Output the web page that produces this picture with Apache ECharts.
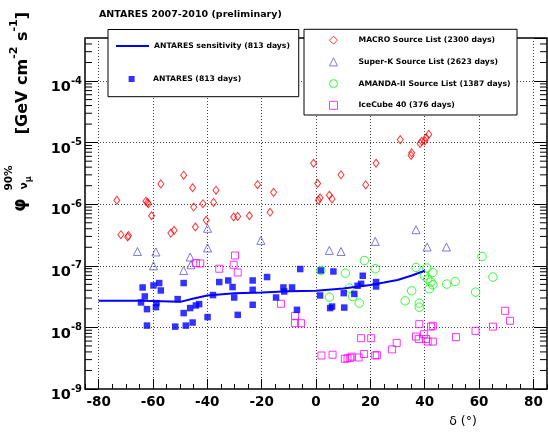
<!DOCTYPE html>
<html>
<head>
<meta charset="utf-8">
<script src="https://cdn.jsdelivr.net/npm/echarts@6/dist/echarts.min.js"></script>
<style>
  html, body { margin: 0; padding: 0; background: #fff; }
  #chart { width: 548px; height: 432px; }
</style>
</head>
<body>
<div id="chart"></div>
<script>
// declination (deg), flux limit
const sensitivity = [
  [-80, 2.7e-8], [-64, 2.72e-8], [-50, 2.6e-8], [-45, 2.95e-8], [-40, 3.3e-8],
  [-30, 3.6e-8], [-20, 3.7e-8], [-10, 3.85e-8], [0, 3.95e-8], [10, 4.3e-8],
  [20, 4.9e-8], [25, 5.35e-8], [30, 5.9e-8], [35, 6.9e-8], [40, 8.3e-8]
]
const antares = [
  [-63.8, 4.45e-8], [-63.0, 3.18e-8], [-64.4, 2.54e-8], [-62.2, 1.98e-8], [-62.2, 1.07e-8],
  [-59.8, 4.8e-8], [-57.7, 5.25e-8], [-57.1, 3.98e-8], [-58.7, 2.48e-8], [-58.9, 2.13e-8],
  [-51.8, 1.03e-8], [-50.9, 2.88e-8], [-48.7, 5.25e-8], [-48.7, 1.71e-8], [-47.9, 1.07e-8],
  [-46.3, 2.06e-8], [-45.4, 1.2e-8], [-44.2, 2.27e-8], [-43.0, 2.39e-8], [-39.9, 1.47e-8],
  [-37.9, 3.35e-8], [-35.6, 5.45e-8], [-32.3, 5.78e-8], [-30.7, 4.52e-8], [-30.1, 3.06e-8],
  [-28.8, 1.6e-8], [-23.3, 5.78e-8], [-23.3, 4.08e-8], [-23.3, 2.33e-8], [-18.0, 6.57e-8],
  [-14.7, 3.06e-8], [-12.0, 4.45e-8], [-11.7, 3.83e-8], [-8.8, 4.45e-8], [-5.8, 8.87e-8],
  [-7.0, 1.93e-8], [1.5, 3.3e-8], [1.8, 8.41e-8], [6.4, 8.1e-8], [5.9, 2.18e-8],
  [5.2, 2.06e-8], [10.2, 3.6e-8], [10.4, 2.1e-8], [14.1, 3.5e-8], [15.3, 4.74e-8],
  [16.6, 5.1e-8], [17.2, 6.9e-8], [22.1, 5.45e-8], [22.1, 4.62e-8]
]
const macro = [
  [-73.3, 1.16e-6], [-71.8, 3.2e-7], [-69.3, 2.94e-7], [-69.0, 3.1e-7], [-62.6, 1.12e-6],
  [-62.0, 1.07e-6], [-61.7, 1.02e-6], [-60.5, 6.5e-7], [-57.1, 2.14e-6], [-53.4, 3.4e-7],
  [-52.2, 3.77e-7], [-48.7, 2.96e-6], [-45.4, 1.85e-6], [-45.0, 9.0e-7], [-44.4, 4.27e-7],
  [-41.6, 1.02e-6], [-40.4, 5.47e-7], [-37.7, 1.07e-6], [-36.8, 1.69e-6], [-30.3, 6.2e-7],
  [-28.8, 6.35e-7], [-24.5, 6.5e-7], [-21.5, 2.08e-6], [-16.9, 7.4e-7], [-15.6, 1.56e-6],
  [-0.9, 4.63e-6], [0.6, 2.17e-6], [0.9, 1.16e-6], [1.5, 1.27e-6], [4.9, 1.4e-6],
  [5.9, 1.22e-6], [9.2, 3.0e-6], [18.3, 2.06e-6], [22.1, 4.63e-6], [31.0, 1.12e-5],
  [35.0, 6.2e-6], [35.2, 6.84e-6], [38.3, 9.7e-6], [38.9, 1.05e-5], [40.1, 1.07e-5],
  [40.5, 1.2e-5], [41.5, 1.36e-5]
]
const superK = [
  [-65.7, 1.71e-7], [-58.9, 1.68e-7], [-59.8, 1.0e-7], [-46.3, 1.39e-7], [-48.7, 8.4e-8],
  [-46.0, 1.04e-7], [-39.9, 4.06e-7], [-39.9, 1.95e-7], [-20.3, 2.59e-7], [4.9, 1.78e-7],
  [9.2, 1.71e-7], [21.8, 2.49e-7], [36.8, 3.86e-7], [40.9, 2.02e-7], [48.0, 2.02e-7]
]
const amanda = [
  [1.8, 8.4e-8], [10.8, 7.6e-8], [17.8, 1.22e-7], [21.8, 8.96e-8], [4.9, 3.1e-8],
  [12.3, 4.35e-8], [13.5, 3.18e-8], [15.9, 2.48e-8], [36.8, 9.4e-8], [40.8, 9.2e-8],
  [39.9, 6.9e-8], [43.0, 7.8e-8], [41.1, 6.1e-8], [42.3, 5.45e-8], [43.0, 4.92e-8],
  [41.7, 4.24e-8], [35.2, 3.93e-8], [32.8, 2.7e-8], [38.0, 2.48e-8], [38.0, 2.13e-8],
  [48.1, 5.05e-8], [51.2, 5.57e-8], [58.7, 3.74e-8], [61.1, 1.42e-7], [65.1, 6.57e-8]
]
const icecube = [
  [-44.2, 1.11e-7], [-42.6, 1.09e-7], [-35.6, 8.96e-8], [-29.8, 1.47e-7], [-30.3, 1.04e-7],
  [-28.8, 7.8e-8], [-12.9, 2.42e-8], [-7.7, 1.54e-8], [-7.7, 1.17e-8], [-5.5, 1.17e-8],
  [16.6, 6.68e-9], [20.3, 6.68e-9], [38.0, 1.13e-8], [42.3, 1.03e-8], [43.0, 1.06e-8],
  [36.8, 7.1e-9], [39.7, 7.76e-9], [40.5, 6.5e-9], [37.8, 6.5e-9], [41.1, 5.89e-9],
  [43.0, 5.89e-9], [29.7, 5.6e-9], [28.0, 4.4e-9], [51.5, 6.94e-9], [58.7, 8.79e-9],
  [65.1, 1.03e-8], [69.6, 1.86e-8], [71.4, 1.28e-8], [2.0, 3.5e-9], [6.1, 3.6e-9],
  [10.6, 3.1e-9], [11.6, 3.15e-9], [12.6, 3.2e-9], [13.1, 3.35e-9], [15.7, 3.25e-9],
  [17.7, 3.7e-9], [21.8, 3.5e-9], [22.4, 3.55e-9]
]

// log axis minor ticks (2..9 in each decade)
const decades = [-9, -8, -7, -6, -5, -4]
const mantissas = [2, 3, 4, 5, 6, 7, 8, 9]

const X_MIN = -85
const X_MAX = 85
const Y_MIN = 1e-9
const Y_MAX = 5e-4

const FONT = '"DejaVu Sans", sans-serif'

const minorTicks = []
decades.forEach((d) => {
  mantissas.forEach((m) => {
    const v = m * Math.pow(10, d)
    if (v < Y_MAX) minorTicks.push([0, v])
  })
})

const dotted = { color: '#444', width: 1, type: [1, 2] }
const legendText = { fontFamily: FONT, fontSize: 7.7, fontWeight: 'bold', color: '#000' }
const noLine = { show: false, onZero: false }

const chart = echarts.init(document.getElementById('chart'))

const option = {
  animation: false,
  backgroundColor: '#fff',
  title: {
    text: 'ANTARES 2007-2010 (preliminary)',
    left: 99,
    top: 10,
    padding: 0,
    textStyle: { fontFamily: FONT, fontSize: 9.5, fontWeight: 'bold', color: '#000' },
  },
  grid: {
    left: 85,
    right: 1,
    top: 38,
    bottom: 43,
    show: true,
    borderColor: '#000',
    borderWidth: 1.5,
    backgroundColor: 'transparent',
  },
  legend: [
    {
      // left box, line entry (the box also frames the square entry below)
      orient: 'vertical',
      left: 108,
      top: 29.5,
      padding: [12.5, 8.8, 46.7, 7],
      itemWidth: 33,
      itemHeight: 8,
      borderColor: '#000',
      borderWidth: 1,
      backgroundColor: '#fff',
      selectedMode: false,
      textStyle: legendText,
      data: [{ name: 'ANTARES sensitivity (813 days)', itemStyle: { color: 'transparent', borderWidth: 0 } }],
    },
    {
      orient: 'vertical',
      left: 128.6,
      top: 75,
      padding: 0,
      itemWidth: 6,
      itemHeight: 6,
      selectedMode: false,
      textStyle: Object.assign({}, legendText, { padding: [0, 0, 0, 13.4] }),
      data: ['ANTARES (813 days)'],
    },
    {
      orient: 'vertical',
      left: 304,
      top: 29.3,
      padding: [4.4, 6.5, 3.2, 23],
      itemWidth: 8,
      itemHeight: 8,
      itemGap: 8.7,
      borderColor: '#000',
      borderWidth: 1,
      backgroundColor: '#fff',
      selectedMode: false,
      itemStyle: { borderWidth: 1 },
      textStyle: Object.assign({}, legendText, { padding: [0, 0, 0, 16] }),
      data: [
        'MACRO Source List (2300 days)',
        'Super-K Source List (2623 days)',
        'AMANDA-II Source List (1387 days)',
        'IceCube 40 (376 days)',
      ],
    },
  ],
  xAxis: [
    {
      type: 'value',
      min: X_MIN,
      max: X_MAX,
      splitNumber: 8,
      axisLine: noLine,
      axisTick: { inside: true, length: 10, lineStyle: { color: '#000', width: 1 } },
      axisLabel: {
        margin: 6,
        showMinLabel: false,
        showMaxLabel: false,
        fontFamily: FONT,
        fontSize: 13.5,
        fontWeight: 'bold',
        color: '#000',
      },
      splitLine: { show: true, lineStyle: dotted },
    },
    {
      type: 'value',
      min: X_MIN,
      max: X_MAX,
      interval: 5,
      position: 'bottom',
      axisLine: noLine,
      axisTick: { inside: true, length: 5, lineStyle: { color: '#000', width: 1 } },
      axisLabel: { show: false },
      splitLine: { show: false },
    },
  ],
  yAxis: [
    {
      type: 'log',
      logBase: 10,
      min: Y_MIN,
      max: Y_MAX,
      axisLine: noLine,
      axisTick: { inside: true, length: 13, lineStyle: { color: '#000', width: 1 } },
      axisLabel: {
        margin: 3,
        showMaxLabel: false,
        formatter: (v) => '{b|10}{s|' + Math.round(Math.log10(v)) + '}',
        rich: {
          b: { fontFamily: FONT, fontSize: 14.5, fontWeight: 'bold', color: '#000', verticalAlign: 'top', padding: [13, 0, 0, 0] },
          s: { fontFamily: FONT, fontSize: 10, fontWeight: 'bold', color: '#000', verticalAlign: 'top', padding: [9, 0, 0, 0] },
        },
      },
      splitLine: { show: true, lineStyle: dotted },
    },
    {
      type: 'log',
      logBase: 10,
      min: Y_MIN,
      max: Y_MAX,
      position: 'right',
      axisLine: noLine,
      axisTick: { inside: true, length: 13, lineStyle: { color: '#000', width: 1 } },
      axisLabel: { show: false },
      splitLine: { show: false },
    },
  ],
  graphic: [
    {
      type: 'text',
      x: 20,
      y: 12,
      rotation: Math.PI / 2,
      style: {
        text: '{a|[GeV cm}{s|-2}{a| s}{s|-1}{a|]}',
        align: 'right',
        verticalAlign: 'middle',
        rich: {
          a: { fontFamily: FONT, fontSize: 16, fontWeight: 'bold', fill: '#000', verticalAlign: 'bottom', padding: [6, 0, 0, 0] },
          s: { fontFamily: FONT, fontSize: 11, fontWeight: 'bold', fill: '#000', verticalAlign: 'top' },
        },
      },
    },
    {
      type: 'text',
      x: 21,
      y: 205,
      rotation: Math.PI / 2,
      style: { text: 'φ', align: 'center', verticalAlign: 'middle', font: 'bold 17px ' + FONT, fill: '#000' },
    },
    {
      type: 'text',
      x: 9,
      y: 178,
      rotation: Math.PI / 2,
      style: { text: '90%', align: 'center', verticalAlign: 'middle', font: 'bold 10.5px ' + FONT, fill: '#000' },
    },
    {
      type: 'text',
      x: 26,
      y: 183,
      rotation: Math.PI / 2,
      style: {
        text: '{n|ν}{m|μ}',
        align: 'center',
        verticalAlign: 'middle',
        rich: {
          n: { fontFamily: FONT, fontSize: 10.5, fontWeight: 'bold', fill: '#000', verticalAlign: 'top' },
          m: { fontFamily: FONT, fontSize: 8, fontWeight: 'bold', fill: '#000', verticalAlign: 'bottom', padding: [6, 0, 0, 0] },
        },
      },
    },
    {
      type: 'text',
      x: 463,
      y: 422,
      style: { text: 'δ (°)', align: 'center', verticalAlign: 'middle', font: '12.5px ' + FONT, fill: '#000' },
    },
  ],
  series: [
    {
      name: 'ANTARES sensitivity (813 days)',
      type: 'line',
      data: sensitivity,
      symbol: 'none',
      showSymbol: false,
      lineStyle: { color: '#0000ff', width: 2 },
      itemStyle: { color: '#0000ff' },
      z: 3,
    },
    {
      name: 'ANTARES (813 days)',
      type: 'scatter',
      data: antares,
      symbol: 'rect',
      symbolSize: 6.5,
      itemStyle: { color: '#0000ff' },
      z: 4,
    },
    {
      name: 'MACRO Source List (2300 days)',
      type: 'scatter',
      data: macro,
      symbol: 'diamond',
      symbolSize: [6, 8],
      itemStyle: { color: 'none', borderColor: '#ff0000', borderWidth: 1 },
    },
    {
      name: 'Super-K Source List (2623 days)',
      type: 'scatter',
      data: superK,
      symbol: 'triangle',
      symbolSize: 8,
      itemStyle: { color: 'none', borderColor: '#5a5ad6', borderWidth: 1 },
    },
    {
      name: 'AMANDA-II Source List (1387 days)',
      type: 'scatter',
      data: amanda,
      symbol: 'circle',
      symbolSize: 8.5,
      itemStyle: { color: 'none', borderColor: '#00ff00', borderWidth: 1 },
    },
    {
      name: 'IceCube 40 (376 days)',
      type: 'scatter',
      data: icecube,
      symbol: 'rect',
      symbolSize: 7,
      itemStyle: { color: 'none', borderColor: '#ff00ff', borderWidth: 1 },
    },
    {
      // minor ticks of the log axis, left and right side
      type: 'custom',
      silent: true,
      clip: false,
      data: minorTicks,
      renderItem: (params, api) => {
        const l = api.coord([X_MIN, api.value(1)])
        const r = api.coord([X_MAX, api.value(1)])
        return {
          type: 'group',
          children: [
            { type: 'line', shape: { x1: l[0], y1: l[1], x2: l[0] + 7, y2: l[1] }, style: { stroke: '#000', lineWidth: 1 } },
            { type: 'line', shape: { x1: r[0] - 7, y1: r[1], x2: r[0], y2: r[1] }, style: { stroke: '#000', lineWidth: 1 } },
          ],
        }
      },
    },
  ],
}

chart.setOption(option)
</script>
</body>
</html>
